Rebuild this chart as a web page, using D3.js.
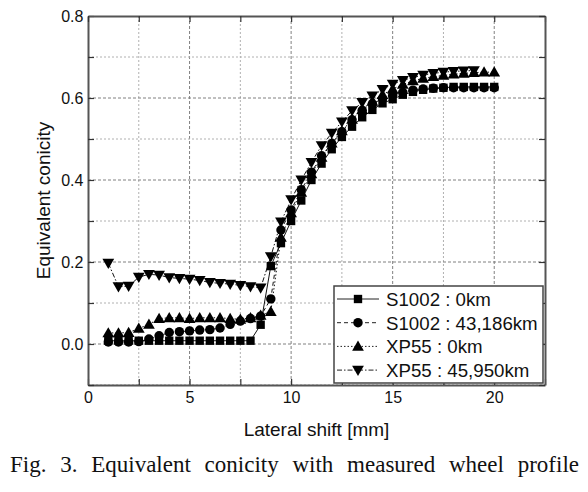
<!DOCTYPE html>
<html><head><meta charset="utf-8">
<script src="https://cdn.jsdelivr.net/npm/d3@7"></script>
<style>body{margin:0;background:#fff;} svg{display:block;}</style>
</head><body>
<svg id="c" width="588" height="492"></svg>
<script>
// ---- data ----
const xs = [1,1.5,2,2.5,3,3.5,4,4.5,5,5.5,6,6.5,7,7.5,8,8.5,9,9.5,10,10.5,11,11.5,12,12.5,13,13.5,14,14.5,15,15.5,16,16.5,17,17.5,18,18.5,19,19.5,20];
const s1002_0 = [0.008,0.008,0.008,0.008,0.008,0.008,0.008,0.008,0.008,0.008,0.008,0.008,0.008,0.008,0.008,0.047,0.19,0.246,0.30,0.35,0.40,0.44,0.475,0.505,0.53,0.553,0.571,0.587,0.597,0.608,0.615,0.62,0.623,0.625,0.627,0.627,0.627,0.627,0.627];
const s1002_43186 = [0.005,0.005,0.005,0.006,0.012,0.02,0.028,0.03,0.032,0.034,0.035,0.039,0.048,0.056,0.062,0.068,0.11,0.278,0.327,0.376,0.419,0.459,0.489,0.518,0.547,0.57,0.586,0.598,0.607,0.614,0.619,0.622,0.624,0.625,0.625,0.625,0.625,0.625,0.625];
const xp55_0 = [0.027,0.027,0.028,0.038,0.048,0.062,0.064,0.064,0.062,0.064,0.064,0.064,0.062,0.06,0.064,0.07,0.079,0.26,0.32,0.37,0.415,0.455,0.49,0.52,0.548,0.572,0.592,0.608,0.622,0.633,0.642,0.648,0.652,0.655,0.658,0.66,0.662,0.663,0.663];
const xs_b = xs.slice(0,37);
const xp55_45950 = [0.197,0.14,0.141,0.163,0.17,0.168,0.162,0.16,0.158,0.155,0.15,0.148,0.146,0.143,0.14,0.137,0.213,0.298,0.352,0.40,0.443,0.484,0.514,0.542,0.569,0.589,0.605,0.621,0.634,0.643,0.65,0.656,0.66,0.663,0.665,0.666,0.667];
const seriesNames = ["S1002 : 0km","S1002 : 43,186km","XP55 : 0km","XP55 : 45,950km"];
const xTicks = [0,5,10,15,20];
const yTicks = [0.0,0.2,0.4,0.6,0.8];
const xGrid = [2.5,5,7.5,10,12.5,15,17.5,20];
const yGrid = [-0.1,0,0.1,0.2,0.3,0.4,0.5,0.6,0.7];
const xLabel = "Lateral shift [mm]";
const yLabel = "Equivalent conicity";
const caption = "Fig. 3. Equivalent conicity with measured wheel profile";

// ---- layout ----
const svg = d3.select("#c");
const L=88, R=545, T=16, B=385;
const x = d3.scaleLinear().domain([0,22.5]).range([L,R]);
const y = d3.scaleLinear().domain([-0.1,0.8]).range([B,T]);
const sans = "'Liberation Sans', Arial, sans-serif";

// grid
const g = svg.append("g");
xGrid.forEach(v=>{
  const major = v%5===0;
  g.append("line").attr("x1",x(v)).attr("x2",x(v)).attr("y1",T).attr("y2",B)
   .attr("stroke", major?"#808080":"#b0b0b0").attr("stroke-width",1).attr("stroke-dasharray", major?"3,2":"2,2");
});
yGrid.forEach(v=>{
  const major = Math.abs((v*10)%2)<1e-6;
  g.append("line").attr("x1",L).attr("x2",R).attr("y1",y(v)).attr("y2",y(v))
   .attr("stroke", major?"#808080":"#b0b0b0").attr("stroke-width",1).attr("stroke-dasharray", major?"3,2":"2,2");
});

// axes with inward ticks
const axB = d3.axisBottom(x).tickValues(d3.range(0,22.6,2.5)).tickSizeInner(-6).tickSizeOuter(0)
  .tickFormat(d=> xTicks.includes(d)? d3.format("d")(d):"");
const axL = d3.axisLeft(y).tickValues(d3.range(-0.1,0.81,0.1).map(v=>+v.toFixed(1))).tickSizeInner(-6).tickSizeOuter(0)
  .tickFormat(d=> yTicks.some(t=>Math.abs(t-d)<1e-6)? d3.format(".1f")(d):"");
const axT = d3.axisTop(x).tickValues(d3.range(0,22.6,2.5)).tickSizeInner(-6).tickSizeOuter(0).tickFormat("");
const axR = d3.axisRight(y).tickValues(d3.range(-0.1,0.81,0.1).map(v=>+v.toFixed(1))).tickSizeInner(-6).tickSizeOuter(0).tickFormat("");
function styleAx(sel){
  sel.selectAll("path").attr("stroke","#555").attr("stroke-width",2);
  sel.selectAll("line").attr("stroke","#333").attr("stroke-width",1.2);
  sel.selectAll("text").attr("font-family",sans).attr("font-size",16).attr("fill","#111");
}
svg.append("g").attr("transform",`translate(0,${B})`).call(axB).call(styleAx).selectAll("text").attr("dy","0.95em");
svg.append("g").attr("transform",`translate(${L},0)`).call(axL).call(styleAx).selectAll("text").attr("dx","-0.1em");
svg.append("g").attr("transform",`translate(0,${T})`).call(axT).call(styleAx);
svg.append("g").attr("transform",`translate(${R},0)`).call(axR).call(styleAx);

// series
const series = [
  {name:seriesNames[0], xv:xs, yv:s1002_0, sym:d3.symbolSquare, size:70, dash:null, rot:0},
  {name:seriesNames[1], xv:xs, yv:s1002_43186, sym:d3.symbolCircle, size:70, dash:"4,3", rot:0},
  {name:seriesNames[2], xv:xs, yv:xp55_0, sym:d3.symbolTriangle, size:60, dash:"1.5,2", rot:0},
  {name:seriesNames[3], xv:xs_b, yv:xp55_45950, sym:d3.symbolTriangle, size:60, dash:"5,2,1.5,2", rot:180},
];
const line = d3.line().x(d=>x(d[0])).y(d=>y(d[1]));
const plot = svg.append("g");
series.forEach(s=>{
  const pts = s.xv.map((v,i)=>[v,s.yv[i]]);
  plot.append("path").attr("d",line(pts)).attr("fill","none").attr("stroke","#111").attr("stroke-width",1)
    .attr("stroke-dasharray",s.dash);
});
series.forEach(s=>{
  const pts = s.xv.map((v,i)=>[v,s.yv[i]]);
  plot.selectAll(null).data(pts).enter().append("path")
    .attr("d",d3.symbol().type(s.sym).size(s.size))
    .attr("transform",d=>`translate(${x(d[0])},${y(d[1]) + (s.sym===d3.symbolTriangle ? (s.rot?-1:1):0)}) rotate(${s.rot})`)
    .attr("fill","#000");
});

// legend
const lg = svg.append("g");
const LX=334, LY=286, LW=209, LH=97;
lg.append("rect").attr("x",LX).attr("y",LY).attr("width",LW).attr("height",LH)
  .attr("fill","#fff").attr("stroke","#444").attr("stroke-width",1.5);
series.forEach((s,i)=>{
  const cy = 299 + i*23.7;
  lg.append("line").attr("x1",337).attr("x2",379).attr("y1",cy).attr("y2",cy)
    .attr("stroke","#222").attr("stroke-width",1).attr("stroke-dasharray",s.dash);
  lg.append("path").attr("d",d3.symbol().type(s.sym).size(s.size))
    .attr("transform",`translate(358,${cy + (s.sym===d3.symbolTriangle ? (s.rot?-1:1):0)}) rotate(${s.rot})`).attr("fill","#000");
  lg.append("text").attr("x",386).attr("y",cy+7).attr("font-family",sans).attr("font-size",18.7)
    .attr("fill","#111").text(s.name);
});

// labels
svg.append("text").attr("x",(L+R)/2).attr("y",436).attr("text-anchor","middle")
  .attr("font-family",sans).attr("font-size",19).attr("fill","#111").text(xLabel);
svg.append("text").attr("transform",`translate(50,${(T+B)/2}) rotate(-90)`).attr("text-anchor","middle")
  .attr("font-family",sans).attr("font-size",19).attr("fill","#111").text(yLabel);
// caption, justified word by word between x=10 and x=579
const words = caption.split(" ");
const capG = svg.append("g");
const wNodes = words.map(w => capG.append("text").attr("y",472)
  .attr("font-family","'Liberation Serif','Times New Roman',serif").attr("font-size",23).attr("fill","#111").text(w));
const widths = wNodes.map(n => n.node().getComputedTextLength());
const gap = (569 - d3.sum(widths)) / (words.length - 1);
let cx = 10;
wNodes.forEach((n,i) => { n.attr("x", cx); cx += widths[i] + gap; });
wNodes[wNodes.length-1].attr("x", 579).attr("text-anchor","end");
</script>
</body></html>
